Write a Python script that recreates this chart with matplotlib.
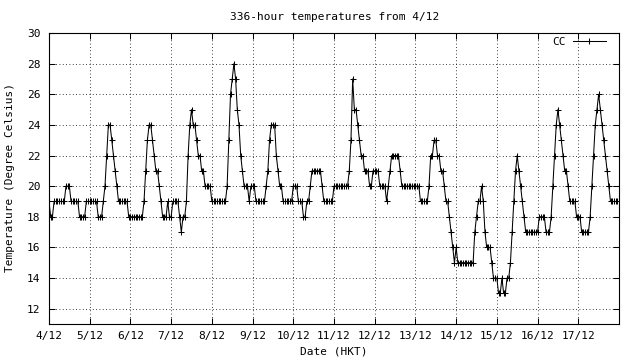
import numpy as np
import matplotlib
matplotlib.use("Agg")
import matplotlib.pyplot as plt

# hourly temperatures (deg C) at CC, starting 4/12 00:00, one list per day
day_04 = [19, 18, 18, 19, 19, 19, 19, 19, 19, 19, 20, 20, 20, 19, 19, 19, 19, 19, 18, 18, 18, 18, 19, 19]
day_05 = [19, 19, 19, 19, 19, 18, 18, 18, 19, 20, 22, 24, 24, 23, 22, 21, 20, 19, 19, 19, 19, 19, 19, 18]
day_06 = [18, 18, 18, 18, 18, 18, 18, 18, 19, 21, 23, 24, 24, 23, 22, 21, 21, 20, 19, 18, 18, 18, 19, 18]
day_07 = [18, 19, 19, 19, 19, 18, 17, 18, 18, 19, 22, 24, 25, 24, 24, 23, 22, 22, 21, 21, 20, 20, 20, 20]
day_08 = [19, 19, 19, 19, 19, 19, 19, 19, 19, 20, 23, 26, 27, 28, 27, 25, 24, 22, 21, 20, 20, 20, 19, 20]
day_09 = [20, 20, 19, 19, 19, 19, 19, 19, 20, 21, 23, 24, 24, 24, 22, 21, 20, 20, 19, 19, 19, 19, 19, 19]
day_10 = [20, 20, 20, 19, 19, 19, 18, 18, 19, 19, 20, 21, 21, 21, 21, 21, 21, 20, 19, 19, 19, 19, 19, 19]
day_11 = [20, 20, 20, 20, 20, 20, 20, 20, 20, 21, 23, 27, 25, 25, 24, 23, 22, 22, 21, 21, 21, 20, 20, 21]
day_12 = [21, 21, 21, 20, 20, 20, 20, 19, 20, 21, 22, 22, 22, 22, 22, 21, 20, 20, 20, 20, 20, 20, 20, 20]
day_13 = [20, 20, 20, 19, 19, 19, 19, 19, 20, 22, 22, 23, 23, 22, 22, 21, 21, 20, 19, 19, 18, 17, 16, 15]
day_14 = [16, 15, 15, 15, 15, 15, 15, 15, 15, 15, 15, 17, 18, 19, 19, 20, 19, 17, 16, 16, 16, 15, 14, 14]
day_15 = [14, 13, 13, 14, 13, 13, 14, 14, 15, 17, 19, 21, 22, 21, 20, 19, 18, 17, 17, 17, 17, 17, 17, 17]
day_16 = [17, 18, 18, 18, 18, 17, 17, 17, 18, 20, 22, 24, 25, 24, 23, 22, 21, 21, 20, 19, 19, 19, 19, 18]
day_17 = [18, 18, 17, 17, 17, 17, 17, 18, 20, 22, 24, 25, 26, 25, 24, 23, 22, 21, 20, 19, 19, 19, 19, 19]

date_labels = ["4/12", "5/12", "6/12", "7/12", "8/12", "9/12", "10/12",
               "11/12", "12/12", "13/12", "14/12", "15/12", "16/12", "17/12"]
y_ticks = [12, 14, 16, 18, 20, 22, 24, 26, 28, 30]

temps = np.array(day_04 + day_05 + day_06 + day_07 + day_08 + day_09 + day_10
                 + day_11 + day_12 + day_13 + day_14 + day_15 + day_16 + day_17)
hours = np.arange(len(temps))

plt.rcParams['font.family'] = ['DejaVu Sans Mono']
plt.rcParams['font.size'] = 8

fig = plt.figure(figsize=(6.4, 3.6), dpi=100)
ax = fig.add_axes([49 / 640, 36 / 360, 570 / 640, 291 / 360])

ax.plot(hours, temps, color='black', lw=0.75, marker='+', markersize=5,
        markeredgewidth=0.75, label='CC')

ax.set_xlim(0, 336)
ax.set_ylim(11, 30)
ax.set_xticks(np.arange(len(date_labels)) * 24)
ax.set_xticklabels(date_labels)
ax.set_yticks(y_ticks)

ax.tick_params(direction='in', length=4, width=0.75, top=True, right=True,
               colors='black', labelsize=8)
ax.tick_params(axis='x', pad=5)
ax.tick_params(axis='y', pad=6)
for s in ax.spines.values():
    s.set_linewidth(0.8)

ax.grid(True, color='black', linestyle=(0, (1, 3)), linewidth=0.6)

leg = ax.legend(loc='upper right', bbox_to_anchor=(0.977, 0.985), frameon=False,
                markerfirst=False, handlelength=3.0, handletextpad=0.6,
                borderpad=0, borderaxespad=0, fontsize=8)

fig.text(335 / 640, 1 - 17 / 360, '336-hour temperatures from 4/12',
         ha='center', va='center', fontsize=8)
fig.text(334 / 640, 1 - 352 / 360, 'Date (HKT)', ha='center', va='center', fontsize=8)
fig.text(10 / 640, 1 - 178 / 360, 'Temperature (Degree Celsius)', ha='center',
         va='center', rotation=90, fontsize=8)

fig.savefig('out.png', dpi=100)
